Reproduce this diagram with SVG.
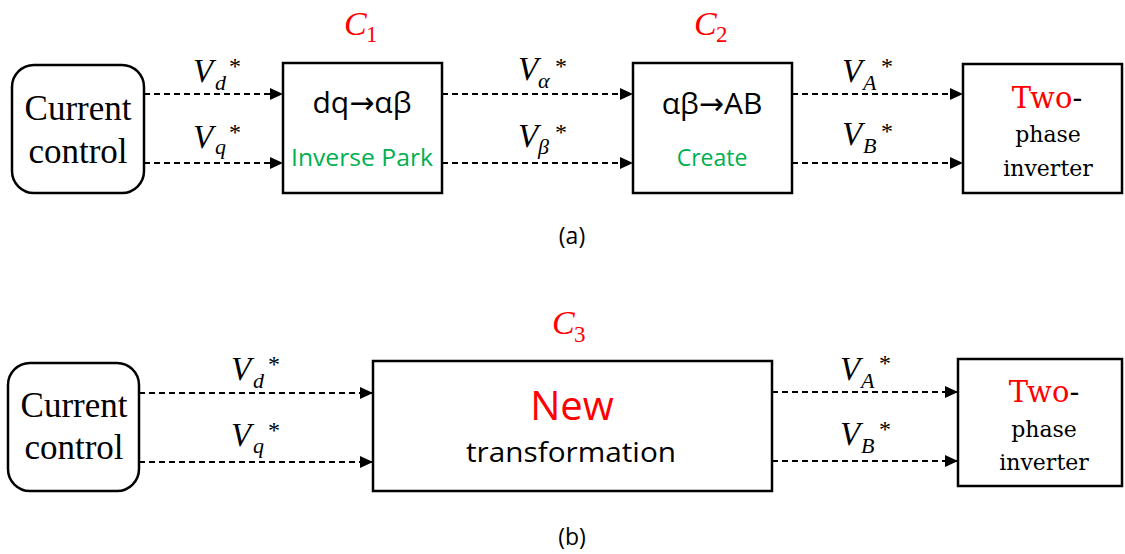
<svg xmlns="http://www.w3.org/2000/svg" width="1125" height="554" viewBox="0 0 1125 554">
<style>
.box{fill:#fff;stroke:#000;stroke-width:2.5}
.conn{fill:none;stroke:#000;stroke-width:2;stroke-dasharray:6 4}
.cc{font-family:"Liberation Serif",serif;font-size:35px;fill:#000;text-anchor:middle}
.main{font-family:"Open Sans","Liberation Sans",sans-serif;font-size:30px;fill:#000;text-anchor:middle}
.arr{font-family:"DejaVu Sans",sans-serif}
.grn{font-family:"Open Sans","Liberation Sans",sans-serif;font-size:23px;fill:#00B050;text-anchor:middle}
.inv{font-family:"DejaVu Serif","Liberation Serif",serif;font-size:22px;fill:#000;text-anchor:middle}
.red{fill:#FF0000}
.v{font-family:"Liberation Serif",serif;font-style:italic;font-size:33px;fill:#000}
.sub{font-family:"Liberation Serif",serif;font-style:italic;font-size:22px;fill:#000}
.star{font-family:"Liberation Serif",serif;font-size:24px;fill:#000}
.cl{font-family:"Liberation Serif",serif;font-style:italic;font-size:34px;fill:#FF0000}
.cs{font-family:"Liberation Serif",serif;font-size:23px;fill:#FF0000}
.cap{font-family:"Open Sans","Liberation Sans",sans-serif;font-size:23px;fill:#000;text-anchor:middle}
</style>
<defs>
<marker id="ah" markerUnits="userSpaceOnUse" markerWidth="14" markerHeight="12" refX="13" refY="6" orient="auto">
<path d="M0,0 L13,6 L0,12 Z" fill="#000"/>
</marker>
</defs>

<g id="connectors">
<path class="conn" d="M144,94 H283" marker-end="url(#ah)"/>
<path class="conn" d="M144,163 H283" marker-end="url(#ah)"/>
<path class="conn" d="M442,94 H633" marker-end="url(#ah)"/>
<path class="conn" d="M442,163 H633" marker-end="url(#ah)"/>
<path class="conn" d="M792,94 H963" marker-end="url(#ah)"/>
<path class="conn" d="M792,163 H963" marker-end="url(#ah)"/>
<path class="conn" d="M139,393 H373" marker-end="url(#ah)"/>
<path class="conn" d="M139,462 H373" marker-end="url(#ah)"/>
<path class="conn" d="M772,392 H958" marker-end="url(#ah)"/>
<path class="conn" d="M772,461 H958" marker-end="url(#ah)"/>
</g>

<g id="labels">
<text class="v" x="193" y="82">V</text><text class="sub" x="215" y="90">d</text><text class="star" x="229" y="74">*</text>
<text class="v" x="193" y="148">V</text><text class="sub" x="215" y="154">q</text><text class="star" x="229" y="140">*</text>
<text class="v" x="518" y="80">V</text><text class="sub" x="538" y="88">α</text><text class="star" x="555" y="74">*</text>
<text class="v" x="518" y="147">V</text><text class="sub" x="538" y="154">β</text><text class="star" x="555" y="140">*</text>
<text class="v" x="842" y="82">V</text><text class="sub" x="863" y="90">A</text><text class="star" x="881" y="74">*</text>
<text class="v" x="842" y="145">V</text><text class="sub" x="863" y="153">B</text><text class="star" x="881" y="139">*</text>
<text class="v" x="231" y="380">V</text><text class="sub" x="253" y="388">d</text><text class="star" x="268" y="372">*</text>
<text class="v" x="231" y="446">V</text><text class="sub" x="253" y="453">q</text><text class="star" x="268" y="438">*</text>
<text class="v" x="840" y="380">V</text><text class="sub" x="861" y="388">A</text><text class="star" x="879" y="371">*</text>
<text class="v" x="840" y="445">V</text><text class="sub" x="861" y="453">B</text><text class="star" x="879" y="437">*</text>
<text class="cl" x="344" y="35">C</text><text class="cs" x="366" y="42">1</text>
<text class="cl" x="694" y="35">C</text><text class="cs" x="716" y="42">2</text>
<text class="cl" x="552" y="334">C</text><text class="cs" x="574" y="342">3</text>
<text class="cap" x="572" y="244">(a)</text>
<text class="cap" x="572" y="545">(b)</text>
</g>

<g id="cc1">
<rect class="box" x="12" y="65" width="132" height="128" rx="22"/>
<text class="cc" x="78" y="120">Current</text>
<text class="cc" x="78" y="163">control</text>
</g>

<g id="c1">
<rect class="box" x="283" y="63" width="159" height="130"/>
<text class="main" x="362" y="113">dq<tspan class="arr">→</tspan>αβ</text>
<text class="grn" x="362" y="166" textLength="142" lengthAdjust="spacingAndGlyphs">Inverse Park</text>
</g>

<g id="c2">
<rect class="box" x="633" y="63" width="159" height="130"/>
<text class="main" x="712" y="114">αβ<tspan class="arr">→</tspan>AB</text>
<text class="grn" x="712" y="166">Create</text>
</g>

<g id="inv1">
<rect class="box" x="963" y="64" width="159" height="129"/>
<text class="inv" x="1047" y="108" style="font-size:29px"><tspan class="red">Two</tspan>-</text>
<text class="inv" x="1048" y="142">phase</text>
<text class="inv" x="1048" y="176">inverter</text>
</g>

<g id="cc2">
<rect class="box" x="8" y="363" width="131" height="128" rx="22"/>
<text class="cc" x="74" y="417">Current</text>
<text class="cc" x="74" y="459">control</text>
</g>

<g id="c3">
<rect class="box" x="373" y="361" width="399" height="130"/>
<text class="main" x="572" y="420" style="font-size:40px;fill:#FF0000">New</text>
<text class="main" x="571" y="462" style="font-size:28px" textLength="210" lengthAdjust="spacingAndGlyphs">transformation</text>
</g>

<g id="inv2">
<rect class="box" x="958" y="359" width="164" height="127"/>
<text class="inv" x="1044" y="402" style="font-size:29px"><tspan class="red">Two</tspan>-</text>
<text class="inv" x="1044" y="437">phase</text>
<text class="inv" x="1044" y="470">inverter</text>
</g>
</svg>
